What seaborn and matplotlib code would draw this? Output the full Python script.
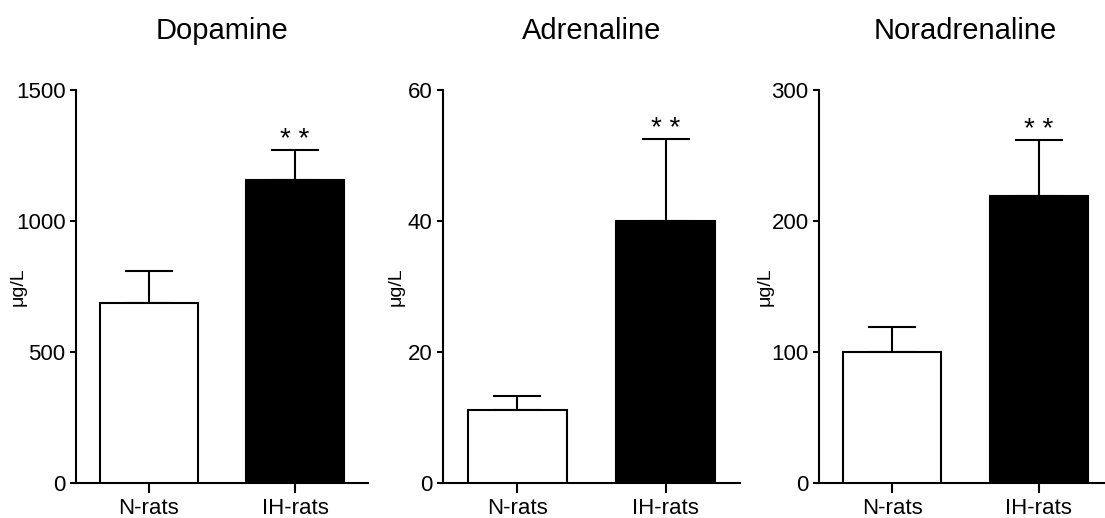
import matplotlib
matplotlib.use("Agg")
import matplotlib.pyplot as plt
import seaborn as sns
import pandas as pd
import numpy as np

# Group labels and measurements (mean and upper SEM) for each catecholamine
groups = ["N-rats", "IH-rats"]

titles = ["Dopamine", "Adrenaline", "Noradrenaline"]

dopamine_mean = [685, 1155]
dopamine_err = [122, 115]

adrenaline_mean = [11.1, 40.0]
adrenaline_err = [2.2, 12.5]

noradrenaline_mean = [100, 219]
noradrenaline_err = [19, 43]

yticks_list = [[0, 500, 1000, 1500], [0, 20, 40, 60], [0, 100, 200, 300]]
ylabel = "μg/L"
signif = "* *"

sns.set_style("ticks")
plt.rcParams["font.family"] = ["Liberation Sans", "DejaVu Sans"]
plt.rcParams.update({
    "axes.linewidth": 1.5,
    "axes.edgecolor": "black",
    "text.color": "black",
    "axes.labelcolor": "black",
    "xtick.color": "black",
    "ytick.color": "black",
})

fig = plt.figure(figsize=(11.05, 5.18), dpi=100)

W, H = 1105.0, 518.0
bottom = 35.3 / H
height = 392.7 / H
panels = [
    (76, 292, -0.17),
    (443, 297, -0.13),
    (819, 293, -0.155),
]

series = [
    (dopamine_mean, dopamine_err),
    (adrenaline_mean, adrenaline_err),
    (noradrenaline_mean, noradrenaline_err),
]

for (left_px, width_px, lab_x), title, (means, errs), yt in zip(panels, titles, series, yticks_list):
    ax = fig.add_axes([left_px / W, bottom, width_px / W, height])
    df = pd.DataFrame({"group": groups, "value": means})
    sns.barplot(
        data=df, x="group", y="value", hue="group",
        palette=["white", "black"], edgecolor="black", linewidth=1.5,
        width=0.667, errorbar=None, legend=False, ax=ax, zorder=3,
    )
    x = np.arange(len(groups))
    ax.errorbar(
        x, means, yerr=[np.zeros(len(errs)), errs], fmt="none",
        ecolor="black", elinewidth=1.5, capsize=17, capthick=1.5, zorder=2,
    )
    # significance marks above the IH-rats error bar
    ax.annotate(
        signif, xy=(1, means[1] + errs[1]), xytext=(0, 2),
        textcoords="offset points", ha="center", va="baseline",
        fontsize=20, color="black",
    )
    ax.set_xlim(-0.5, 1.5)
    ax.set_ylim(0, yt[-1])
    ax.set_yticks(yt)
    ax.set_yticklabels([str(v) for v in yt])
    ax.set_xlabel("")
    ax.set_ylabel(ylabel, fontsize=14)
    ax.yaxis.set_label_coords(lab_x, 0.5)
    ax.set_title(title, fontsize=21, pad=36.5)
    ax.tick_params(axis="y", labelsize=16, length=4.5, width=1.5, pad=3)
    ax.tick_params(axis="x", labelsize=16, length=7, width=1.5, pad=4)
    sns.despine(ax=ax)

fig.savefig("out.png", dpi=100)
